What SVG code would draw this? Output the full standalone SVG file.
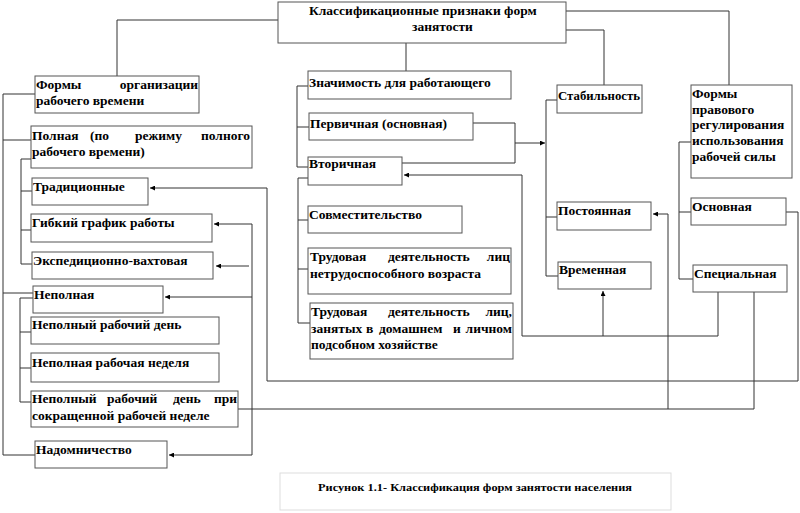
<svg xmlns="http://www.w3.org/2000/svg" width="800" height="513" viewBox="0 0 800 513">
<style>
.b{fill:#fff;stroke:#555;stroke-width:1}
.t{font-family:"Liberation Serif","Times New Roman",serif;font-size:13.5px;font-weight:bold;fill:#000}
.e{text-anchor:end}
.c{fill:none;stroke:#333;stroke-width:1}
.cap{fill:#fff;stroke:#ddd;stroke-width:1}
.ct{font-family:"Liberation Serif","Times New Roman",serif;font-size:10px;font-weight:bold;fill:#000}
</style>
<defs>
<marker id="ah" viewBox="0 0 5 5" refX="5" refY="2.5" markerWidth="5" markerHeight="5" markerUnits="userSpaceOnUse" orient="auto">
<path d="M0,0 L5,2.5 L0,5 z" fill="#000"/>
</marker>
</defs>
<rect width="800" height="513" fill="#fff"/>
<g id="connectors">
<path class="c" d="M278,20 H117 V76"/>
<path class="c" d="M406,43 V71"/>
<path class="c" d="M566,30 H604 V85"/>
<path class="c" d="M566,11 H729 V85"/>
<path class="c" d="M35,94 H3 V455 H35 M3,140 H31 M3,293 H33"/>
<path class="c" d="M31,159 H21 V264 H32 M21,191 H32 M21,230 H31"/>
<path class="c" d="M33,298 H20 V402 H31 M20,332 H31 M20,368 H31"/>
<path class="c" d="M308,86 H297 V167 H308 M297,127 H309"/>
<path class="c" d="M308,178 H298 V323 H310 M298,220 H308 M298,269 H308"/>
<path class="c" d="M473,123 H515 V163 H402"/>
<path class="c" d="M515,143 H545" marker-end="url(#ah)"/>
<path class="c" d="M557,100 H546 V276 H558 M546,217 H557"/>
<path class="c" d="M691,142 H679 V279 H693 M679,212 H691"/>
<path class="c" d="M786,212 H798 V381 H267 V188 H150" marker-end="url(#ah)"/>
<path class="c" d="M754,292 V409 H238"/>
<path class="c" d="M252,224 H214" marker-end="url(#ah)"/>
<path class="c" d="M252,224 V455 H169" marker-end="url(#ah)"/>
<path class="c" d="M252,297 H165" marker-end="url(#ah)"/>
<path class="c" d="M668,409 V214 H653" marker-end="url(#ah)"/>
<path class="c" d="M718,292 V336 H522 V175 H404" marker-end="url(#ah)"/>
<path class="c" d="M603,336 V291" marker-end="url(#ah)"/>
<path class="c" d="M249,266 H216" marker-end="url(#ah)"/>
</g>
<g id="n-top"><rect class="b" x="278" y="2" width="288" height="41"/>
<text class="t" x="309" y="15">Классификационные признаки форм</text>
<text class="t" x="412" y="31">занятости</text></g>
<g id="n-formy-org"><rect class="b" x="35" y="76" width="164" height="37"/>
<text class="t" x="36" y="89">Формы</text><text class="t e" x="198" y="89">организации</text>
<text class="t" x="36" y="105">рабочего времени</text></g>
<g id="n-polnaya"><rect class="b" x="31" y="126" width="221" height="42"/>
<text class="t" x="32" y="140">Полная</text><text class="t" x="90" y="140">(по</text><text class="t" x="135" y="140">режиму</text><text class="t e" x="250" y="140">полного</text>
<text class="t" x="32" y="156">рабочего времени)</text></g>
<g id="n-trad"><rect class="b" x="32" y="178" width="116" height="27"/>
<text class="t" x="33" y="191">Традиционные</text></g>
<g id="n-gibkiy"><rect class="b" x="31" y="214" width="181" height="28"/>
<text class="t" x="32" y="227">Гибкий график работы</text></g>
<g id="n-exped"><rect class="b" x="32" y="252" width="181" height="27"/>
<text class="t" x="33" y="265">Экспедиционно-вахтовая</text></g>
<g id="n-nepolnaya"><rect class="b" x="33" y="286" width="130" height="27"/>
<text class="t" x="34" y="299">Неполная</text></g>
<g id="n-nep-den"><rect class="b" x="31" y="317" width="188" height="27"/>
<text class="t" x="32" y="329">Неполный рабочий день</text></g>
<g id="n-nep-ned"><rect class="b" x="31" y="353" width="188" height="29"/>
<text class="t" x="32" y="367">Неполная рабочая неделя</text></g>
<g id="n-nep-sokr"><rect class="b" x="31" y="391" width="207" height="36"/>
<text class="t" x="32" y="403">Неполный</text><text class="t" x="107" y="403">рабочий</text><text class="t" x="173" y="403">день</text><text class="t e" x="237" y="403">при</text>
<text class="t" x="32" y="420">сокращенной рабочей неделе</text></g>
<g id="n-nadom"><rect class="b" x="35" y="441" width="132" height="27"/>
<text class="t" x="36" y="454">Надомничество</text></g>
<g id="n-znach"><rect class="b" x="308" y="71" width="203" height="28"/>
<text class="t" x="309" y="87">Значимость для работающего</text></g>
<g id="n-perv"><rect class="b" x="309" y="113" width="164" height="27"/>
<text class="t" x="310" y="128">Первичная (основная)</text></g>
<g id="n-vtor"><rect class="b" x="308" y="157" width="94" height="28"/>
<text class="t" x="309" y="168">Вторичная</text></g>
<g id="n-sovm"><rect class="b" x="308" y="206" width="154" height="27"/>
<text class="t" x="309" y="219">Совместительство</text></g>
<g id="n-trud-netr"><rect class="b" x="308" y="248" width="203" height="46"/>
<text class="t" x="310" y="261">Трудовая</text><text class="t" x="388" y="261">деятельность</text><text class="t e" x="510" y="261">лиц</text>
<text class="t" x="310" y="278">нетрудоспособного возраста</text></g>
<g id="n-trud-dom"><rect class="b" x="310" y="303" width="203" height="56"/>
<text class="t" x="311" y="316">Трудовая</text><text class="t" x="388" y="316">деятельность</text><text class="t e" x="512" y="316">лиц,</text>
<text class="t" x="311" y="333">занятых</text><text class="t" x="366" y="333">в</text><text class="t" x="379" y="333">домашнем</text><text class="t" x="453" y="333">и</text><text class="t e" x="512" y="333">личном</text>
<text class="t" x="311" y="349">подсобном хозяйстве</text></g>
<g id="n-stab"><rect class="b" x="557" y="85" width="85" height="28"/>
<text class="t" x="558" y="100" textLength="82" lengthAdjust="spacingAndGlyphs">Стабильность</text></g>
<g id="n-post"><rect class="b" x="557" y="202" width="94" height="28"/>
<text class="t" x="558" y="215">Постоянная</text></g>
<g id="n-vrem"><rect class="b" x="558" y="262" width="93" height="27"/>
<text class="t" x="559" y="274">Временная</text></g>
<g id="n-formy-prav"><rect class="b" x="691" y="85" width="101" height="93"/>
<text class="t" x="692" y="98">Формы</text>
<text class="t" x="692" y="114">правового</text>
<text class="t" x="692" y="129">регулирования</text>
<text class="t" x="692" y="145">использования</text>
<text class="t" x="692" y="161">рабочей силы</text></g>
<g id="n-osn"><rect class="b" x="691" y="198" width="95" height="27"/>
<text class="t" x="692" y="211">Основная</text></g>
<g id="n-spec"><rect class="b" x="693" y="265" width="94" height="27"/>
<text class="t" x="694" y="278">Специальная</text></g>
<g id="caption"><rect class="cap" x="280" y="473" width="391" height="37"/>
<text class="ct" x="318" y="491" textLength="314" lengthAdjust="spacingAndGlyphs">Рисунок 1.1- Классификация форм занятости населения</text></g>
</svg>
